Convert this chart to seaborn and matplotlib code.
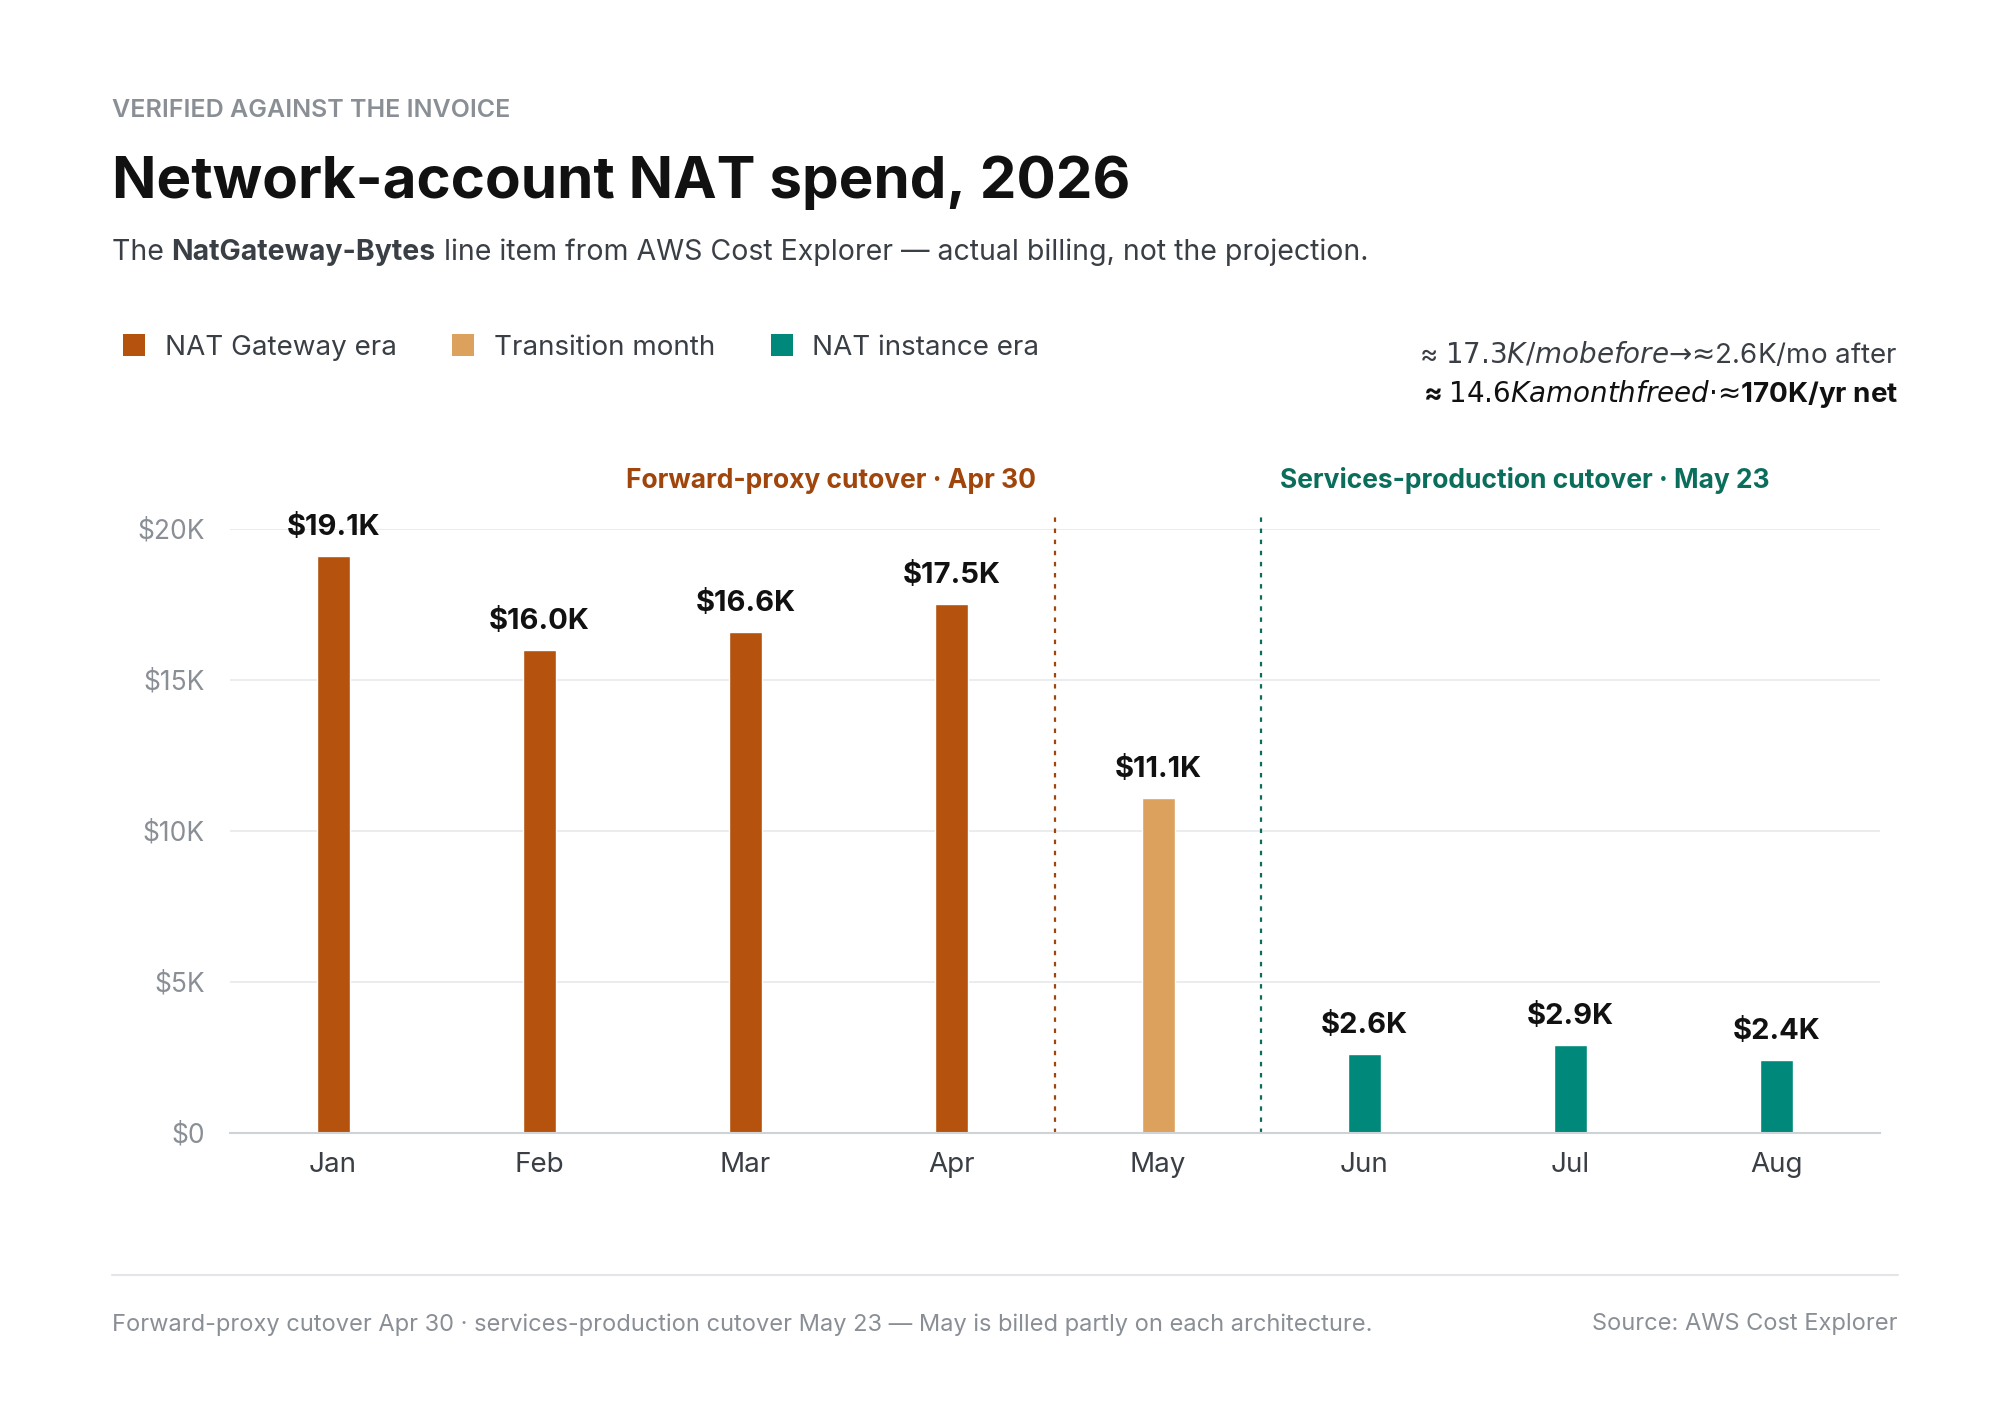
import matplotlib
matplotlib.use('Agg')
import matplotlib.pyplot as plt
from matplotlib.patches import Patch
import seaborn as sns
import pandas as pd

months = ["Jan", "Feb", "Mar", "Apr", "May", "Jun", "Jul", "Aug"]
spend = [19100, 16000, 16600, 17500, 11100, 2600, 2900, 2400]
eras = ["NAT Gateway era"] * 4 + ["Transition month"] + ["NAT instance era"] * 3
bar_labels = ["$19.1K", "$16.0K", "$16.6K", "$17.5K", "$11.1K", "$2.6K", "$2.9K", "$2.4K"]
y_ticks = [0, 5000, 10000, 15000, 20000]
y_tick_labels = ["$0", "$5K", "$10K", "$15K", "$20K"]

colors = {"NAT Gateway era": "#B5530E", "Transition month": "#DDA15E", "NAT instance era": "#00897B"}

sns.set_theme(style="white")
plt.rcParams['font.family'] = ['Inter', 'DejaVu Sans']

df = pd.DataFrame({"month": months, "spend": spend, "era": eras})

fig = plt.figure(figsize=(20, 14.18), dpi=100)
ax = fig.add_axes([0.115, 0.201, 0.825, 0.426])
sns.barplot(data=df, x="month", y="spend", hue="era", palette=colors, dodge=False,
            width=0.16, order=months, ax=ax, legend=False, saturation=1)

ax.set_xlim(-0.5, 7.5)
ax.set_ylim(0, 20000)
ax.set_yticks(y_ticks)
ax.set_yticklabels(y_tick_labels, color="#8a8f96", fontsize=19)
ax.tick_params(axis='x', labelsize=20, colors="#3a3f45", length=0, pad=14)
ax.tick_params(axis='y', length=0, pad=18)
ax.set_xlabel("")
ax.set_ylabel("")
for s in ["top", "right", "left"]:
    ax.spines[s].set_visible(False)
ax.spines["bottom"].set_color("#cfd2d6")
ax.spines["bottom"].set_linewidth(1.5)
for t in y_ticks[1:]:
    ax.axhline(t, color="#e8e9eb", lw=1.2, zorder=0)

for i, (v, lab) in enumerate(zip(spend, bar_labels)):
    ax.text(i, v + 500, lab, ha="center", va="bottom", fontsize=21, fontweight="bold",
            color="#111111", clip_on=False)

ax.plot([3.5, 3.5], [0, 20600], ls=(0, (2, 3)), color="#A0450B", lw=1.6, clip_on=False)
ax.plot([4.5, 4.5], [0, 20600], ls=(0, (2, 3)), color="#0B6E5C", lw=1.6, clip_on=False)
ax.text(3.41, 21600, "Forward-proxy cutover · Apr 30", ha="right", va="center",
        fontsize=19, fontweight="bold", color="#A0450B", clip_on=False)
ax.text(4.59, 21600, "Services-production cutover · May 23", ha="left", va="center",
        fontsize=19, fontweight="bold", color="#0B6E5C", clip_on=False)

# header
fig.text(0.0558, 0.922, "VERIFIED AGAINST THE INVOICE", fontsize=18, color="#8a8f96",
         fontweight="semibold", va="center")
fig.text(0.0558, 0.871, "Network-account NAT spend, 2026", fontsize=42, fontweight="bold",
         color="#111111", va="center")

# subtitle with bold piece
renderer = fig.canvas.get_renderer()
x = 0.0558
for piece, w in [("The ", "normal"), ("NatGateway-Bytes", "bold"),
                 (" line item from AWS Cost Explorer — actual billing, not the projection.", "normal")]:
    t = fig.text(x, 0.822, piece, fontsize=20.5, fontweight=w, color="#3a3f45", va="center")
    bb = t.get_window_extent(renderer)
    x += bb.width / fig.bbox.width

handles = [Patch(facecolor=c, edgecolor="none", label=k) for k, c in colors.items()]
fig.legend(handles=handles, loc="center left", bbox_to_anchor=(0.049, 0.755), frameon=False,
           ncol=3, fontsize=20, handlelength=0.8, handleheight=0.8, columnspacing=2.0,
           handletextpad=0.7, labelcolor="#3a3f45")

fig.text(0.949, 0.750, "≈ $17.3K/mo before  →  ≈ $2.6K/mo after", ha="right", va="center",
         fontsize=20, color="#3a3f45")
fig.text(0.949, 0.722, "≈ $14.6K a month freed  ·  ≈ $170K/yr net", ha="right", va="center",
         fontsize=20, fontweight="bold", color="#111111")

# footer
fig.add_artist(plt.Line2D([0.0558, 0.949], [0.101, 0.101], color="#e3e5e8", lw=1.5))
fig.text(0.0558, 0.066, "Forward-proxy cutover Apr 30 · services-production cutover May 23 — May is billed partly on each architecture.",
         fontsize=17, color="#8a8f96", va="center")
fig.text(0.949, 0.066, "Source: AWS Cost Explorer", fontsize=17, color="#8a8f96", va="center", ha="right")

fig.savefig("out.png", dpi=100, facecolor="white")
